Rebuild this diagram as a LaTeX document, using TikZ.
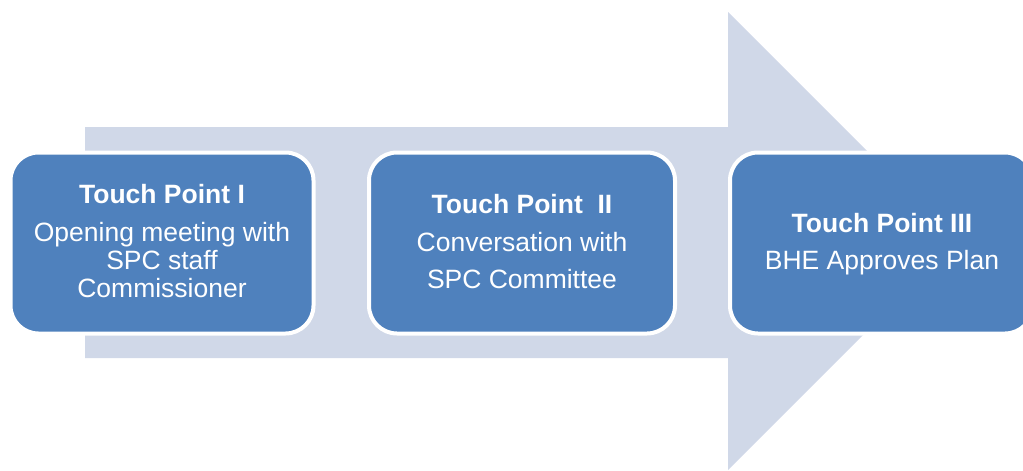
\documentclass[tikz,border=0pt]{standalone}
\usepackage{fontspec}
\setmainfont{Liberation Sans}
\definecolor{boxblue}{HTML}{4F81BD}
\definecolor{arrowgray}{HTML}{D0D8E8}
\begin{document}
\begin{tikzpicture}[x=1pt,y=-1pt,
  tpbox/.style={draw=white,line width=4pt,fill=boxblue,rounded corners=28pt,
    minimum width=#1,minimum height=181pt,inner sep=0pt},
  tptext/.style={anchor=base,text=white,inner sep=0pt,font=\fontsize{26.5}{26.5}\selectfont},
  tptitle/.style={tptext,font=\fontsize{26.5}{26.5}\selectfont\bfseries}]
\useasboundingbox (0,0) rectangle (1023,471);
\begin{scope}
\clip (0,0) rectangle (1023,471);
% big arrow
\fill[arrowgray] (85,127) -- (728,127) -- (728,12) -- (957,241) -- (728,470) -- (728,358) -- (85,358) -- cycle;
% boxes
\node[tpbox=303pt] (b1) at (162,243) {};
\node[tpbox=306pt] (b2) at (522,243) {};
\node[tpbox=303pt] (b3) at (881.5,243) {};
\end{scope}
% texts
\node[tptitle] (t1) at (162,203) {Touch Point I};
\node[tptext] (t1a) at (162,241) {Opening meeting with};
\node[tptext] (t1b) at (162,269) {SPC staff};
\node[tptext] (t1c) at (162,297) {Commissioner};
\node[tptitle] (t2) at (522,213) {Touch Point\ \ II};
\node[tptext] (t2a) at (522,251) {Conversation with};
\node[tptext] (t2b) at (522,288) {SPC Committee};
\node[tptitle] (t3) at (882,232) {Touch Point III};
\node[tptext] (t3a) at (882,269) {BHE Approves Plan};
\end{tikzpicture}
\end{document}
